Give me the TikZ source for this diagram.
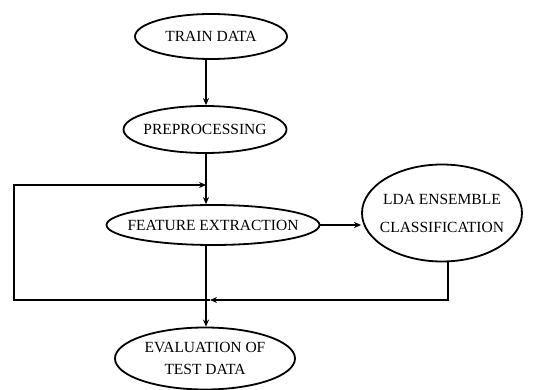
\documentclass[tikz,border=0pt]{standalone}
\usepackage{fontspec}
\setmainfont{Liberation Serif}
\usetikzlibrary{shapes.geometric,arrows.meta}
\begin{document}
\begin{tikzpicture}[x=1pt,y=-1pt,
  oval/.style={draw,ellipse,line width=1.8pt,inner xsep=-25pt,inner ysep=0pt,font=\fontsize{15.5}{17}\selectfont,align=center},
  conn/.style={line width=1.8pt},
  arr/.style={conn,-{Stealth[length=7pt,width=6pt]}}]
\useasboundingbox (0,0) rectangle (544,390);
\node[oval,minimum width=152pt,minimum height=45pt] (train) at (211,36.5) {TRAIN DATA};
\node[oval,minimum width=163pt,minimum height=47pt] (pre) at (205,129.5) {PREPROCESSING};
\node[oval,minimum width=213pt,minimum height=40pt] (fe) at (213,225) {FEATURE EXTRACTION};
\node[oval,minimum width=160pt,minimum height=97pt,font=\fontsize{15.5}{28}\selectfont] (lda) at (442,213) {LDA ENSEMBLE\\CLASSIFICATION};
\node[oval,minimum width=180pt,minimum height=62pt,font=\fontsize{15.5}{22}\selectfont] (eval) at (205,358.5) {EVALUATION OF\\TEST DATA};
\coordinate (col) at (206,0);
\coordinate (tl) at (14,185);
\coordinate (bl) at (14,300);
\coordinate (br) at (448,300);
\coordinate (mid) at (210,300);
\draw[arr] (col |- train.south) -- (col |- pre.north);
\draw[arr] (col |- pre.south) -- (col |- fe.north);
\draw[arr] (col |- fe.south) -- (col |- eval.north);
\draw[arr] (fe.east) -- (fe.east -| lda.west);
\draw[arr] (br |- lda.south) -- (br) -- (mid);
\draw[arr] (mid) -- (bl) -- (tl) -- (col |- tl);
\end{tikzpicture}
\end{document}
